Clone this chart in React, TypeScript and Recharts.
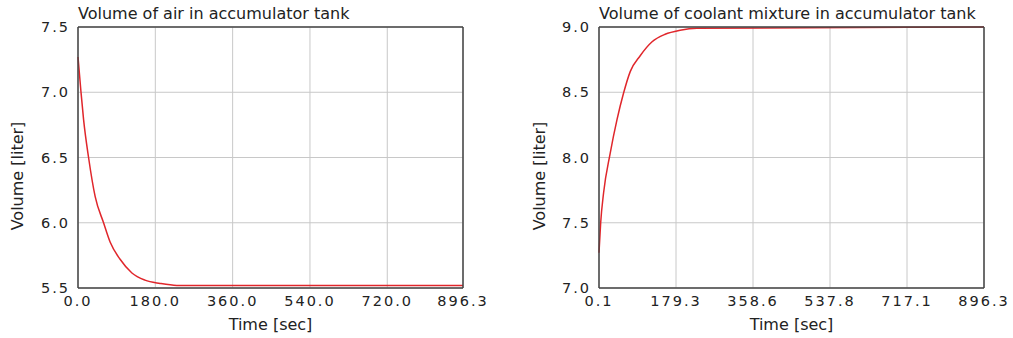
import { LineChart, Line, XAxis, YAxis, CartesianGrid } from 'recharts';

// left panel: air in the tank
const airTime = [0, 7, 13, 24.6, 40, 59.5, 75, 98, 125.5, 156, 191, 230, 896.3];
const airVolume = [7.27, 7.0, 6.79, 6.5, 6.2, 6.0, 5.85, 5.72, 5.615, 5.56, 5.535, 5.52, 5.52];
const airXTicks = [0, 180, 360, 540, 720, 896.3];
const airYTicks = [5.5, 6.0, 6.5, 7.0, 7.5];

// right panel: coolant mixture in the tank
const coolantTime = [0.1, 4, 10.8, 26, 42, 57, 73, 96, 123, 154, 189, 228, 896.3];
const coolantVolume = [7.27, 7.5, 7.73, 8.03, 8.29, 8.49, 8.66, 8.78, 8.885, 8.944, 8.975, 8.99, 9.0];
const coolantXTicks = [0.1, 179.34, 358.58, 537.82, 717.06, 896.3];
const coolantYTicks = [7.0, 7.5, 8.0, 8.5, 9.0];

const FONT = '"DejaVu Sans", sans-serif';
const TEXT = '#222';
const BORDER = '#444';

const tickStyle = { fill: TEXT, fontSize: 14.5, fontFamily: FONT, letterSpacing: 2 };

interface PanelProps {
  title: string;
  time: number[];
  volume: number[];
  xTicks: number[];
  yTicks: number[];
  width: number;
  axisWidth: number;
  rightMargin: number;
  labelX: number;
}

function Panel({ title, time, volume, xTicks, yTicks, width, axisWidth, rightMargin, labelX }: PanelProps) {
  const data = time.map((t, i) => ({ t, v: volume[i] }));
  const xDomain = [xTicks[0], xTicks[xTicks.length - 1]];
  const yDomain = [yTicks[0], yTicks[yTicks.length - 1]];

  return (
    <div style={{ position: 'relative', width, height: 338 }}>
      <div
        style={{
          position: 'absolute',
          left: axisWidth,
          top: 5,
          fontFamily: FONT,
          fontSize: 16,
          color: TEXT,
          lineHeight: '18px',
          whiteSpace: 'nowrap',
        }}
      >
        {title}
      </div>
      <LineChart width={width} height={338} data={data} margin={{ top: 26, right: rightMargin - 1, bottom: 0, left: 0 }}>
        <CartesianGrid stroke="#c8c8c8" strokeWidth={1} />
        <XAxis
          dataKey="t"
          type="number"
          domain={xDomain}
          ticks={xTicks}
          interval={0}
          height={50}
          tickLine={false}
          axisLine={{ stroke: BORDER, strokeWidth: 1.5 }}
          tick={tickStyle}
          tickFormatter={(v: number) => v.toFixed(1)}
          label={({ viewBox }: any) => (
            <text x={viewBox.x + viewBox.width / 2} y={viewBox.y + 42} textAnchor="middle" fill={TEXT} fontSize={16} fontFamily={FONT}>
              Time [sec]
            </text>
          )}
        />
        <XAxis
          xAxisId="top"
          orientation="top"
          type="number"
          domain={xDomain}
          height={1}
          tick={false}
          tickLine={false}
          axisLine={{ stroke: BORDER, strokeWidth: 1.5 }}
        />
        <YAxis
          type="number"
          domain={yDomain}
          ticks={yTicks}
          interval={0}
          width={axisWidth}
          tickLine={false}
          axisLine={{ stroke: BORDER, strokeWidth: 1.5 }}
          tick={tickStyle}
          tickFormatter={(v: number) => v.toFixed(1)}
          label={({ viewBox }: any) => (
            <text
              transform={`translate(${viewBox.x + labelX},${viewBox.y + viewBox.height / 2 + 18.5}) rotate(-90)`}
              textAnchor="middle"
              fill={TEXT}
              fontSize={16}
              fontFamily={FONT}
            >
              Volume [liter]
            </text>
          )}
        />
        <YAxis
          yAxisId="right"
          orientation="right"
          type="number"
          domain={yDomain}
          width={1}
          tick={false}
          tickLine={false}
          axisLine={{ stroke: BORDER, strokeWidth: 1.5 }}
        />
        <Line type="monotone" dataKey="v" stroke="#e0262b" strokeWidth={1.5} dot={false} isAnimationActive={false} />
      </LineChart>
    </div>
  );
}

export default function App() {
  return (
    <div style={{ position: 'absolute', left: 0, top: 0, width: 1013, height: 338, background: '#fff', display: 'flex' }}>
      <Panel
        title="Volume of air in accumulator tank"
        time={airTime}
        volume={airVolume}
        xTicks={airXTicks}
        yTicks={airYTicks}
        width={506}
        axisWidth={78}
        rightMargin={43}
        labelX={23}
      />
      <Panel
        title="Volume of coolant mixture in accumulator tank"
        time={coolantTime}
        volume={coolantVolume}
        xTicks={coolantXTicks}
        yTicks={coolantYTicks}
        width={507}
        axisWidth={93}
        rightMargin={29}
        labelX={38.5}
      />
    </div>
  );
}
